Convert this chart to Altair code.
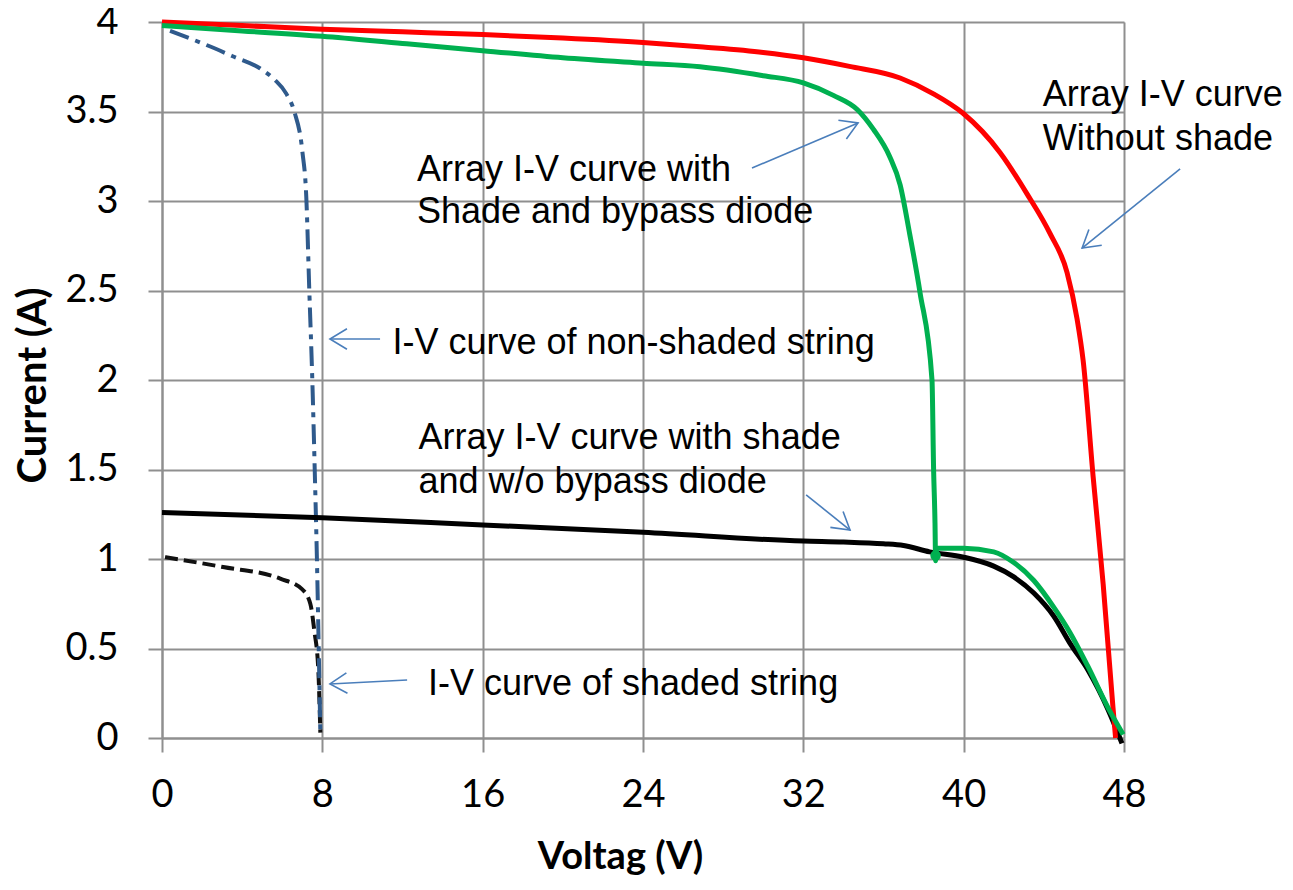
import altair as alt
import pandas as pd

# ---------------- data ----------------
x_ticks = [0, 8, 16, 24, 32, 40, 48]
y_ticks = [0, 0.5, 1, 1.5, 2, 2.5, 3, 3.5, 4]

# Array I-V curve without shade (red)
red_v = [0, 4, 8, 12, 16, 20, 24, 27, 30, 32, 34.3, 36.83, 38.47, 39.97, 41.82, 43.16, 44.3,
         45.16, 45.66, 45.96, 46.46, 46.96, 47.45, 47.58]
red_i = [4.0, 3.98, 3.96, 3.945, 3.93, 3.91, 3.885, 3.86, 3.83, 3.80, 3.752, 3.687, 3.60, 3.49,
         3.27, 3.04, 2.82, 2.60, 2.34, 2.11, 1.46, 0.86, 0.17, 0.0]

# Array I-V curve with shade and bypass diode (green)
green_v = [0, 4, 8, 12, 16, 20, 24, 26.85, 30, 32, 33.5, 34.7, 35.5, 36.3, 36.83, 37.3, 37.82,
           38.42, 38.5, 38.57, 38.6, 38.65, 40.0, 41.5, 42.5, 43.5, 44.5, 45.3, 46.2,
           47.2, 47.96]
green_i = [3.98, 3.95, 3.92, 3.88, 3.84, 3.80, 3.77, 3.75, 3.70, 3.66, 3.59, 3.51, 3.40, 3.25,
           3.09, 2.82, 2.49, 2.0, 1.5, 1.2, 0.99, 1.06, 1.06, 1.04, 0.98, 0.88, 0.73,
           0.59, 0.40, 0.17, 0.02]

# Array I-V curve with shade and w/o bypass diode (black)
black_v = [0, 8, 16, 24, 32, 34, 36, 37, 38.3, 40, 41.5, 42.5, 43.5, 44.5, 45.3, 46.2, 47.2, 47.9]
black_i = [1.26, 1.23, 1.19, 1.15, 1.10, 1.095, 1.085, 1.075, 1.04, 1.01, 0.96, 0.90, 0.81,
           0.68, 0.53, 0.38, 0.16, -0.03]

# I-V curve of non-shaded string (blue dash-dot)
blue_v = [0.4, 2.25, 3.5, 4.9, 5.6, 6.2, 6.6, 7.0, 7.2, 7.35, 7.5, 7.62, 7.73, 7.82, 7.9]
blue_i = [3.95, 3.87, 3.81, 3.74, 3.68, 3.60, 3.50, 3.28, 3.02, 2.5, 2.0, 1.5, 1.0, 0.5, 0.03]

# I-V curve of shaded string (black dashed)
shaded_v = [0.15, 3.05, 5.9, 7.0, 7.4, 7.6, 7.8, 7.9]
shaded_i = [1.01, 0.955, 0.89, 0.83, 0.75, 0.60, 0.38, 0.03]

# annotation texts (one row per line)
note_text = ["Array I-V curve with", "Shade and bypass diode",
             "Array I-V curve", "Without shade",
             "I-V curve of non-shaded string",
             "Array I-V curve with shade", "and w/o bypass diode",
             "I-V curve of shaded string"]
note_v = [12.72, 12.72, 43.95, 43.95, 11.5, 12.8, 12.8, 13.27]
note_i = [3.11, 2.875, 3.53, 3.285, 2.145, 1.615, 1.37, 0.24]

# arrows (tail -> tip)
arrow_v0 = [29.44, 50.8, 10.88, 32.14, 12.23]
arrow_i0 = [3.184, 3.179, 2.229, 1.358, 0.324]
arrow_v1 = [34.73, 45.91, 8.38, 34.33, 8.38]
arrow_i1 = [3.436, 2.737, 2.229, 1.162, 0.302]
arrow_angle = [337, 141, 180, 38.5, 177]

# green corner blob
dot_v = [38.6]
dot_i = [1.02]

# ---------------- chart ----------------
GRID = "#8f8f8f"


def frame(v, i):
    return pd.DataFrame({"V": v, "I": i, "k": list(range(len(v)))})


x_scale = alt.Scale(domain=[0, 48], nice=False, zero=False)
y_scale = alt.Scale(domain=[0, 4], nice=False, zero=False)

x_axis = alt.Axis(values=x_ticks, title="Voltag (V)", grid=True, gridColor=GRID, gridWidth=2,
                  domainColor=GRID, domainWidth=2, tickColor=GRID, tickWidth=2, tickSize=14,
                  labelFont="Lato", labelFontSize=38, labelColor="black", labelPadding=24,
                  labelFlush=False,
                  titleFont="Lato", titleFontSize=38, titleFontWeight="bold", titleColor="black",
                  titleX=458, titleY=130, titleAlign="center", titleBaseline="alphabetic")
y_axis = alt.Axis(values=y_ticks, format="~g", title="Current (A)", grid=True, gridColor=GRID,
                  gridWidth=2, domainColor=GRID, domainWidth=2, tickColor=GRID, tickWidth=2,
                  tickSize=14, labelFont="Lato", labelFontSize=38, labelColor="black",
                  labelPadding=30, labelFlush=False,
                  titleFont="Lato", titleFontSize=40, titleFontWeight="bold", titleColor="black",
                  titleAngle=270, titleX=-129, titleY=363, titleAlign="center",
                  titleBaseline="middle")

X = alt.X("V:Q", scale=x_scale, axis=x_axis)
Y = alt.Y("I:Q", scale=y_scale, axis=y_axis)


def curve(v, i, color, width, dash=None):
    kw = dict(color=color, strokeWidth=width, interpolate="monotone", clip=False)
    if dash:
        kw["strokeDash"] = dash
    return alt.Chart(frame(v, i)).mark_line(**kw).encode(x=X, y=Y, order="k:Q")


shaded = curve(shaded_v, shaded_i, "#111111", 4, [13, 6])
blue = curve(blue_v, blue_i, "#2F5A8C", 4, [20, 7, 5, 7])
black = curve(black_v, black_i, "#000000", 5)
red = curve(red_v, red_i, "#FF0000", 5)
green = curve(green_v, green_i, "#00B050", 5)

dot = alt.Chart(frame(dot_v, dot_i)).mark_circle(color="#00B050", size=110, opacity=1).encode(x=X, y=Y)

arrows_df = pd.DataFrame({"V": arrow_v0, "I": arrow_i0, "V2": arrow_v1, "I2": arrow_i1,
                          "ang": arrow_angle})
arrow_lines = alt.Chart(arrows_df).mark_rule(color="#4A7EBB", strokeWidth=1.6).encode(
    x=X, y=Y, x2="V2:Q", y2="I2:Q")
arrow_heads = alt.Chart(arrows_df).mark_point(
    shape="M -1 -0.6 L 0 0 L -1 0.6", filled=False, color="#4A7EBB", strokeWidth=1.6,
    size=1156, opacity=1).encode(
    x=alt.X("V2:Q", scale=x_scale, axis=x_axis),
    y=alt.Y("I2:Q", scale=y_scale, axis=y_axis),
    angle=alt.Angle("ang:Q", scale=None))

notes_df = pd.DataFrame({"V": note_v, "I": note_i, "label": note_text})
notes = alt.Chart(notes_df).mark_text(align="left", baseline="alphabetic", font="Liberation Sans",
                                      fontSize=36, color="black").encode(x=X, y=Y, text="label:N")

chart = alt.layer(shaded, blue, black, red, green, dot, arrow_lines, arrow_heads, notes).properties(
    width=962, height=716,
    autosize=alt.AutoSizeParams(type="none"),
    padding={"left": 154, "top": 14, "right": 160, "bottom": 140},
).configure_view(strokeWidth=0).configure(background="white")

chart.save("out.html", embed_options={"renderer": "svg", "actions": False})
